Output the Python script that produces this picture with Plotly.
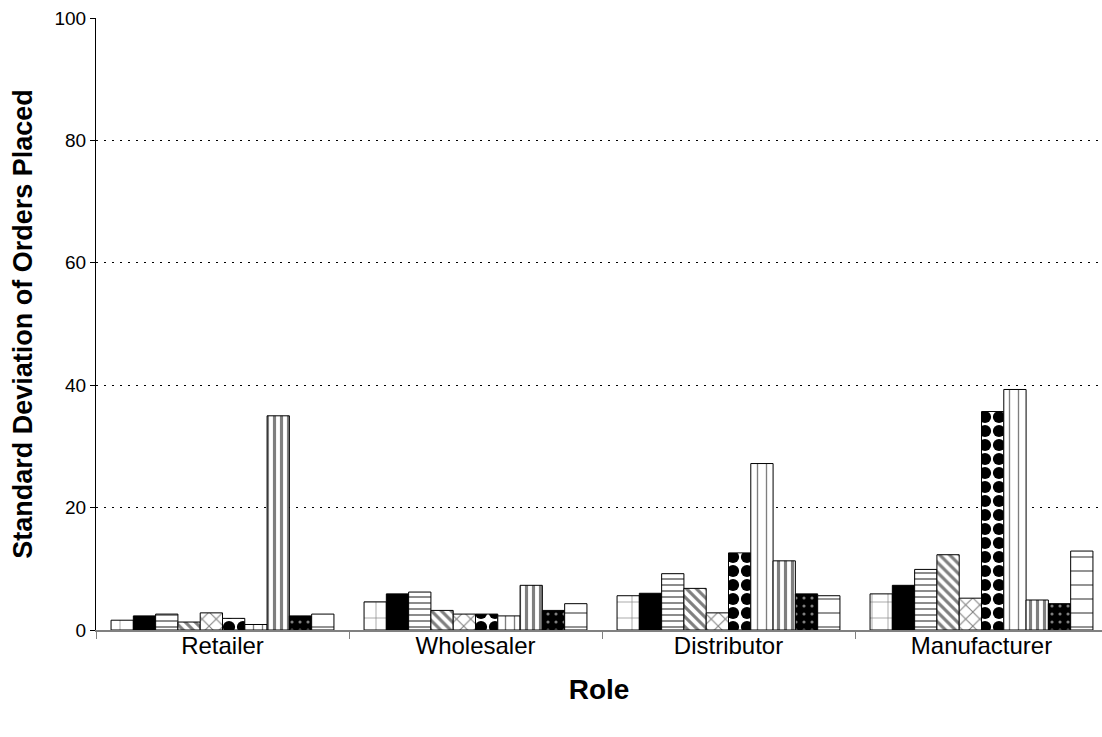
import plotly.graph_objects as go

roles = ["Retailer", "Wholesaler", "Distributor", "Manufacturer"]

# Standard deviation of orders placed, one list per series (Retailer, Wholesaler, Distributor, Manufacturer)
series_1 = [1.6, 4.6, 5.6, 5.9]
series_2 = [2.3, 5.9, 6.0, 7.3]
series_3 = [2.6, 6.2, 9.2, 9.9]
series_4 = [1.3, 3.2, 6.8, 12.3]
series_5 = [2.8, 2.6, 2.8, 5.2]
series_6 = [1.9, 2.6, 12.6, 35.7]
series_7 = [0.9, 2.3, 27.2, 39.3]
series_8 = [35.0, 7.3, 11.3, 4.9]
series_9 = [2.3, 3.2, 5.9, 4.3]
series_10 = [2.6, 4.3, 5.6, 12.9]

y_ticks = [0, 20, 40, 60, 80, 100]

all_series = [series_1, series_2, series_3, series_4, series_5,
              series_6, series_7, series_8, series_9, series_10]

# black-and-white fill styles for each series
styles = [
    dict(color="white", pattern=dict(shape="+", size=16, solidity=0.08, fgcolor="black", bgcolor="white")),
    dict(color="black", pattern=dict(shape="")),
    dict(color="white", pattern=dict(shape="-", size=6, solidity=0.3, fgcolor="black", bgcolor="white")),
    dict(color="white", pattern=dict(shape="\\", size=7, solidity=0.45, fgcolor="black", bgcolor="white")),
    dict(color="white", pattern=dict(shape="x", size=10, solidity=0.2, fgcolor="black", bgcolor="white")),
    dict(color="white", pattern=dict(shape=".", size=14, solidity=0.6, fgcolor="black", bgcolor="white", fgopacity=1)),
    dict(color="white", pattern=dict(shape="|", size=9, solidity=0.15, fgcolor="black", bgcolor="white")),
    dict(color="white", pattern=dict(shape="|", size=7, solidity=0.45, fgcolor="black", bgcolor="white")),
    dict(color="black", pattern=dict(shape=".", size=8, solidity=0.12, fgcolor="white", bgcolor="black")),
    dict(color="white", pattern=dict(shape="-", size=14, solidity=0.12, fgcolor="black", bgcolor="white")),
]

fig = go.Figure()
for i, (vals, st) in enumerate(zip(all_series, styles)):
    fig.add_trace(go.Bar(
        x=roles,
        y=vals,
        name=f"Series {i + 1}",
        marker=dict(color=st["color"], pattern=st["pattern"],
                    line=dict(color="black", width=1)),
        showlegend=False,
    ))

W, H = 1102, 737
left, top, bottom = 96, 18, 107
cat_px = 253.0
plot_w = W - left

fig.update_layout(
    width=W, height=H,
    margin=dict(l=left, r=0, t=top, b=bottom, pad=0),
    paper_bgcolor="white",
    plot_bgcolor="white",
    barmode="group",
    bargap=0.119,
    bargroupgap=0.0,
    font=dict(family="Liberation Sans, Arial, sans-serif", color="black"),
)

fig.update_xaxes(
    type="category",
    range=[-0.5, -0.5 + plot_w / cat_px],
    showline=True, linecolor="#808080", linewidth=2,
    ticks="outside", tickson="boundaries", ticklen=7, tickcolor="#808080", tickwidth=1,
    tickfont=dict(size=24),
    ticklabelstandoff=-7,
    showgrid=False,
    title=dict(text="<b>Role</b>", font=dict(size=28), standoff=22),
)

fig.update_yaxes(
    range=[0, 100],
    tickvals=y_ticks,
    showline=True, linecolor="black", linewidth=1,
    ticks="outside", ticklen=5, tickcolor="black",
    tickfont=dict(size=19),
    showgrid=True, gridcolor="black", griddash="2px,6px", gridwidth=1,
    zeroline=False,
    title=dict(text="<b>Standard Deviation of Orders Placed</b>", font=dict(size=27), standoff=14),
)

fig.write_html("out.html")
